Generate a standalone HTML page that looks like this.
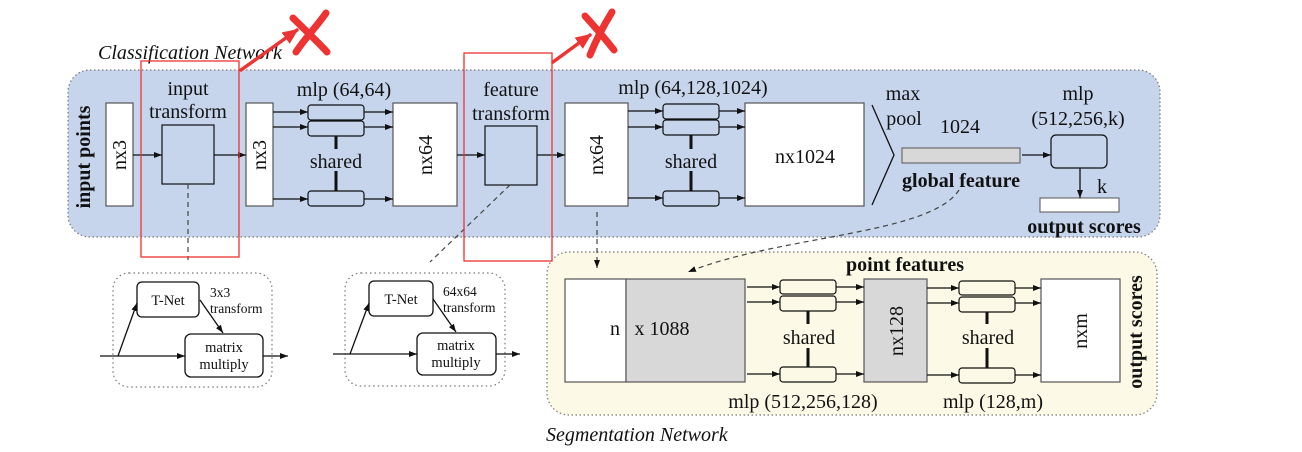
<!DOCTYPE html>
<html><head><meta charset="utf-8"><style>
html,body{margin:0;padding:0;background:#fff;width:1302px;height:452px;overflow:hidden}
svg{display:block}
text{font-family:"Liberation Serif",serif;fill:#111}
.b{font-weight:bold}
</style></head><body>
<svg width="1302" height="452" viewBox="0 0 1302 452" xmlns="http://www.w3.org/2000/svg">
<defs>
<marker id="a" markerWidth="8" markerHeight="6" refX="8" refY="3" orient="auto" markerUnits="userSpaceOnUse"><path d="M0,0 L8,3 L0,6 z" fill="#111"/></marker>
<marker id="r" markerWidth="16" markerHeight="14" refX="14" refY="7" orient="auto" markerUnits="userSpaceOnUse"><path d="M0,0 L16,7 L0,14 z" fill="#ee3333"/></marker>
</defs>

<rect x="68" y="70" width="1092" height="167" rx="22" fill="#c6d5ec" stroke="#777" stroke-width="1.2" stroke-dasharray="1.5,2.5"/>
<text x="98" y="59" font-size="20" font-style="italic">Classification Network</text>
<text class="b" font-size="20" transform="translate(90,157) rotate(-90)" text-anchor="middle">input points</text>

<g stroke="#555" stroke-width="1.2">
<rect x="106" y="103" width="27" height="103" fill="#fff"/>
<rect x="246" y="103" width="27" height="103" fill="#fff"/>
<rect x="393" y="103" width="64" height="103" fill="#fff"/>
<rect x="565" y="103" width="63" height="103" fill="#fff"/>
<rect x="745" y="103" width="119" height="103" fill="#fff"/>
</g>
<g stroke="#111" stroke-width="1.2" fill="#c6d5ec">
<rect x="162" y="125" width="52" height="59"/>
<rect x="485" y="126" width="52" height="59"/>
<rect x="308" y="105" width="56" height="15" rx="3"/>
<rect x="308" y="121" width="56" height="15" rx="3"/>
<rect x="308" y="191" width="56" height="15" rx="3"/>
<rect x="663" y="104" width="56" height="15" rx="3"/>
<rect x="663" y="120" width="56" height="15" rx="3"/>
<rect x="663" y="191" width="56" height="15" rx="3"/>
<rect x="1051" y="135" width="56" height="33" rx="5"/>
</g>
<rect x="902" y="148" width="118" height="15" fill="#d8d8d8" stroke="#555"/>
<rect x="1040" y="198" width="79" height="14" fill="#fff" stroke="#555"/>
<path d="M872,105 L894,155 L872,205" fill="none" stroke="#111" stroke-width="1.3"/>
<g stroke="#111" stroke-width="3">
<line x1="336" y1="136" x2="336" y2="149"/><line x1="336" y1="171" x2="336" y2="191"/>
<line x1="691" y1="135" x2="691" y2="149"/><line x1="691" y1="171" x2="691" y2="191"/>
</g>
<g stroke="#111" stroke-width="1.3" marker-end="url(#a)">
<line x1="133" y1="155" x2="162" y2="155"/>
<line x1="214" y1="155" x2="246" y2="155"/>
<line x1="273" y1="112" x2="308" y2="112"/><line x1="273" y1="127" x2="308" y2="127"/><line x1="273" y1="199" x2="308" y2="199"/>
<line x1="364" y1="112" x2="393" y2="112"/><line x1="364" y1="127" x2="393" y2="127"/><line x1="364" y1="199" x2="393" y2="199"/>
<line x1="457" y1="155" x2="485" y2="155"/>
<line x1="537" y1="155" x2="565" y2="155"/>
<line x1="628" y1="111" x2="663" y2="111"/><line x1="628" y1="127" x2="663" y2="127"/><line x1="628" y1="198" x2="663" y2="198"/>
<line x1="719" y1="111" x2="745" y2="111"/><line x1="719" y1="127" x2="745" y2="127"/><line x1="719" y1="198" x2="745" y2="198"/>
<line x1="1022" y1="155" x2="1051" y2="155"/>
<line x1="1080" y1="168" x2="1080" y2="198"/>
</g>
<g font-size="20" text-anchor="middle">
<text transform="translate(126,155) rotate(-90)">nx3</text>
<text transform="translate(266,155) rotate(-90)">nx3</text>
<text transform="translate(432,155) rotate(-90)">nx64</text>
<text transform="translate(603,155) rotate(-90)">nx64</text>
<text x="188" y="95">input</text><text x="188" y="118">transform</text>
<text x="511" y="96">feature</text><text x="511" y="120">transform</text>
<text x="344" y="96">mlp (64,64)</text>
<text x="693" y="94">mlp (64,128,1024)</text>
<text x="336" y="168">shared</text><text x="691" y="168">shared</text>
<text x="805" y="163">nx1024</text>
<text x="903" y="100">max</text><text x="904" y="125">pool</text>
<text x="960" y="133">1024</text>
<text x="1078" y="100">mlp</text><text x="1078" y="125">(512,256,k)</text>
<text x="1102" y="193">k</text>
<text class="b" x="961" y="187">global feature</text>
<text class="b" x="1084" y="233">output scores</text>
</g>

<rect x="547" y="252" width="610" height="163" rx="22" fill="#fcf9e6" stroke="#777" stroke-width="1.2" stroke-dasharray="1.5,2.5"/>
<text x="546" y="441" font-size="20" font-style="italic">Segmentation Network</text>
<g stroke="#555" stroke-width="1.2">
<rect x="565" y="279" width="61" height="103" fill="#fff"/>
<rect x="626" y="279" width="119" height="103" fill="#d8d8d8"/>
<rect x="864" y="279" width="63" height="103" fill="#d8d8d8"/>
<rect x="1041" y="279" width="79" height="103" fill="#fff"/>
</g>
<g stroke="#111" stroke-width="1.2" fill="#fcf9e6">
<rect x="780" y="280" width="56" height="14" rx="3"/>
<rect x="780" y="296" width="56" height="15" rx="3"/>
<rect x="780" y="367" width="56" height="15" rx="3"/>
<rect x="959" y="281" width="56" height="14" rx="3"/>
<rect x="959" y="297" width="56" height="15" rx="3"/>
<rect x="959" y="368" width="56" height="15" rx="3"/>
</g>
<g stroke="#111" stroke-width="3">
<line x1="808" y1="311" x2="808" y2="324"/><line x1="808" y1="348" x2="808" y2="367"/>
<line x1="987" y1="312" x2="987" y2="324"/><line x1="987" y1="348" x2="987" y2="368"/>
</g>
<g stroke="#111" stroke-width="1.3" marker-end="url(#a)">
<line x1="747" y1="287" x2="780" y2="287"/><line x1="747" y1="302" x2="780" y2="302"/><line x1="747" y1="374" x2="780" y2="374"/>
<line x1="836" y1="287" x2="864" y2="287"/><line x1="836" y1="302" x2="864" y2="302"/><line x1="836" y1="374" x2="864" y2="374"/>
<line x1="927" y1="288" x2="959" y2="288"/><line x1="927" y1="303" x2="959" y2="303"/><line x1="927" y1="375" x2="959" y2="375"/>
<line x1="1015" y1="288" x2="1041" y2="288"/><line x1="1015" y1="303" x2="1041" y2="303"/><line x1="1015" y1="375" x2="1041" y2="375"/>
</g>
<g font-size="20" text-anchor="middle">
<text x="615" y="335">n</text><text x="662" y="335">x 1088</text>
<text transform="translate(903,331) rotate(-90)">nx128</text>
<text transform="translate(1087,331) rotate(-90)">nxm</text>
<text x="809" y="344">shared</text><text x="988" y="344">shared</text>
<text x="803" y="408">mlp (512,256,128)</text>
<text x="993" y="408">mlp (128,m)</text>
<text class="b" x="905" y="271">point features</text>
<text class="b" transform="translate(1142,332) rotate(-90)">output scores</text>
</g>

<g stroke="#444" stroke-width="1.2" stroke-dasharray="5,4" fill="none">
<line x1="188" y1="184" x2="188" y2="260"/>
<line x1="510" y1="185" x2="430" y2="262"/>
<line x1="597" y1="212" x2="597" y2="268" marker-end="url(#a)"/>
<path d="M959,190 C930,235 780,235 688,272" marker-end="url(#a)"/>
</g>

<g fill="none">
<rect x="113" y="273" width="159" height="114" rx="16" stroke="#777" stroke-width="1.2" stroke-dasharray="1.5,3"/>
<rect x="345" y="273" width="160" height="113" rx="16" stroke="#777" stroke-width="1.2" stroke-dasharray="1.5,3"/>
</g>
<g stroke="#111" stroke-width="1.3" fill="#fff">
<rect x="137" y="282" width="62" height="35" rx="5"/>
<rect x="185" y="334" width="78" height="43" rx="6"/>
<rect x="369" y="281" width="64" height="35" rx="5"/>
<rect x="417" y="333" width="79" height="42" rx="6"/>
</g>
<g stroke="#111" stroke-width="1.3" fill="none" marker-end="url(#a)">
<line x1="100" y1="356" x2="185" y2="356"/>
<line x1="118" y1="356" x2="137" y2="303"/>
<line x1="200" y1="300" x2="223" y2="333"/>
<line x1="263" y1="356" x2="288" y2="356"/>
<line x1="333" y1="354" x2="417" y2="354"/>
<line x1="350" y1="354" x2="369" y2="303"/>
<line x1="433" y1="299" x2="456" y2="332"/>
<line x1="496" y1="354" x2="520" y2="354"/>
</g>
<g font-size="14.5" text-anchor="middle">
<text x="168" y="305">T-Net</text><text x="224" y="352">matrix</text><text x="224" y="369">multiply</text>
<text x="401" y="304">T-Net</text><text x="456" y="350">matrix</text><text x="456" y="367">multiply</text>
</g>
<g font-size="13.5">
<text x="210" y="297">3x3</text><text x="210" y="313">transform</text>
<text x="443" y="296">64x64</text><text x="443" y="312">transform</text>
</g>

<g fill="none" stroke="#ee3333" stroke-width="1.3">
<rect x="141" y="61" width="98" height="196"/>
<rect x="464" y="53" width="88" height="208"/>
</g>
<g stroke="#ee3333" stroke-linecap="round" fill="none">
<line x1="241" y1="70" x2="297" y2="30" stroke-width="3.5" marker-end="url(#r)"/>
<line x1="553" y1="62" x2="590" y2="35" stroke-width="3.5" marker-end="url(#r)"/>
<path d="M326,13 C318,25 305,38 296,52" stroke-width="7"/>
<path d="M293,18 C305,30 318,42 327,52" stroke-width="7"/>
<path d="M612,12 C604,25 596,40 590,55" stroke-width="7"/>
<path d="M585,16 C596,28 606,40 614,50" stroke-width="7"/>
</g>
</svg>
</body></html>
